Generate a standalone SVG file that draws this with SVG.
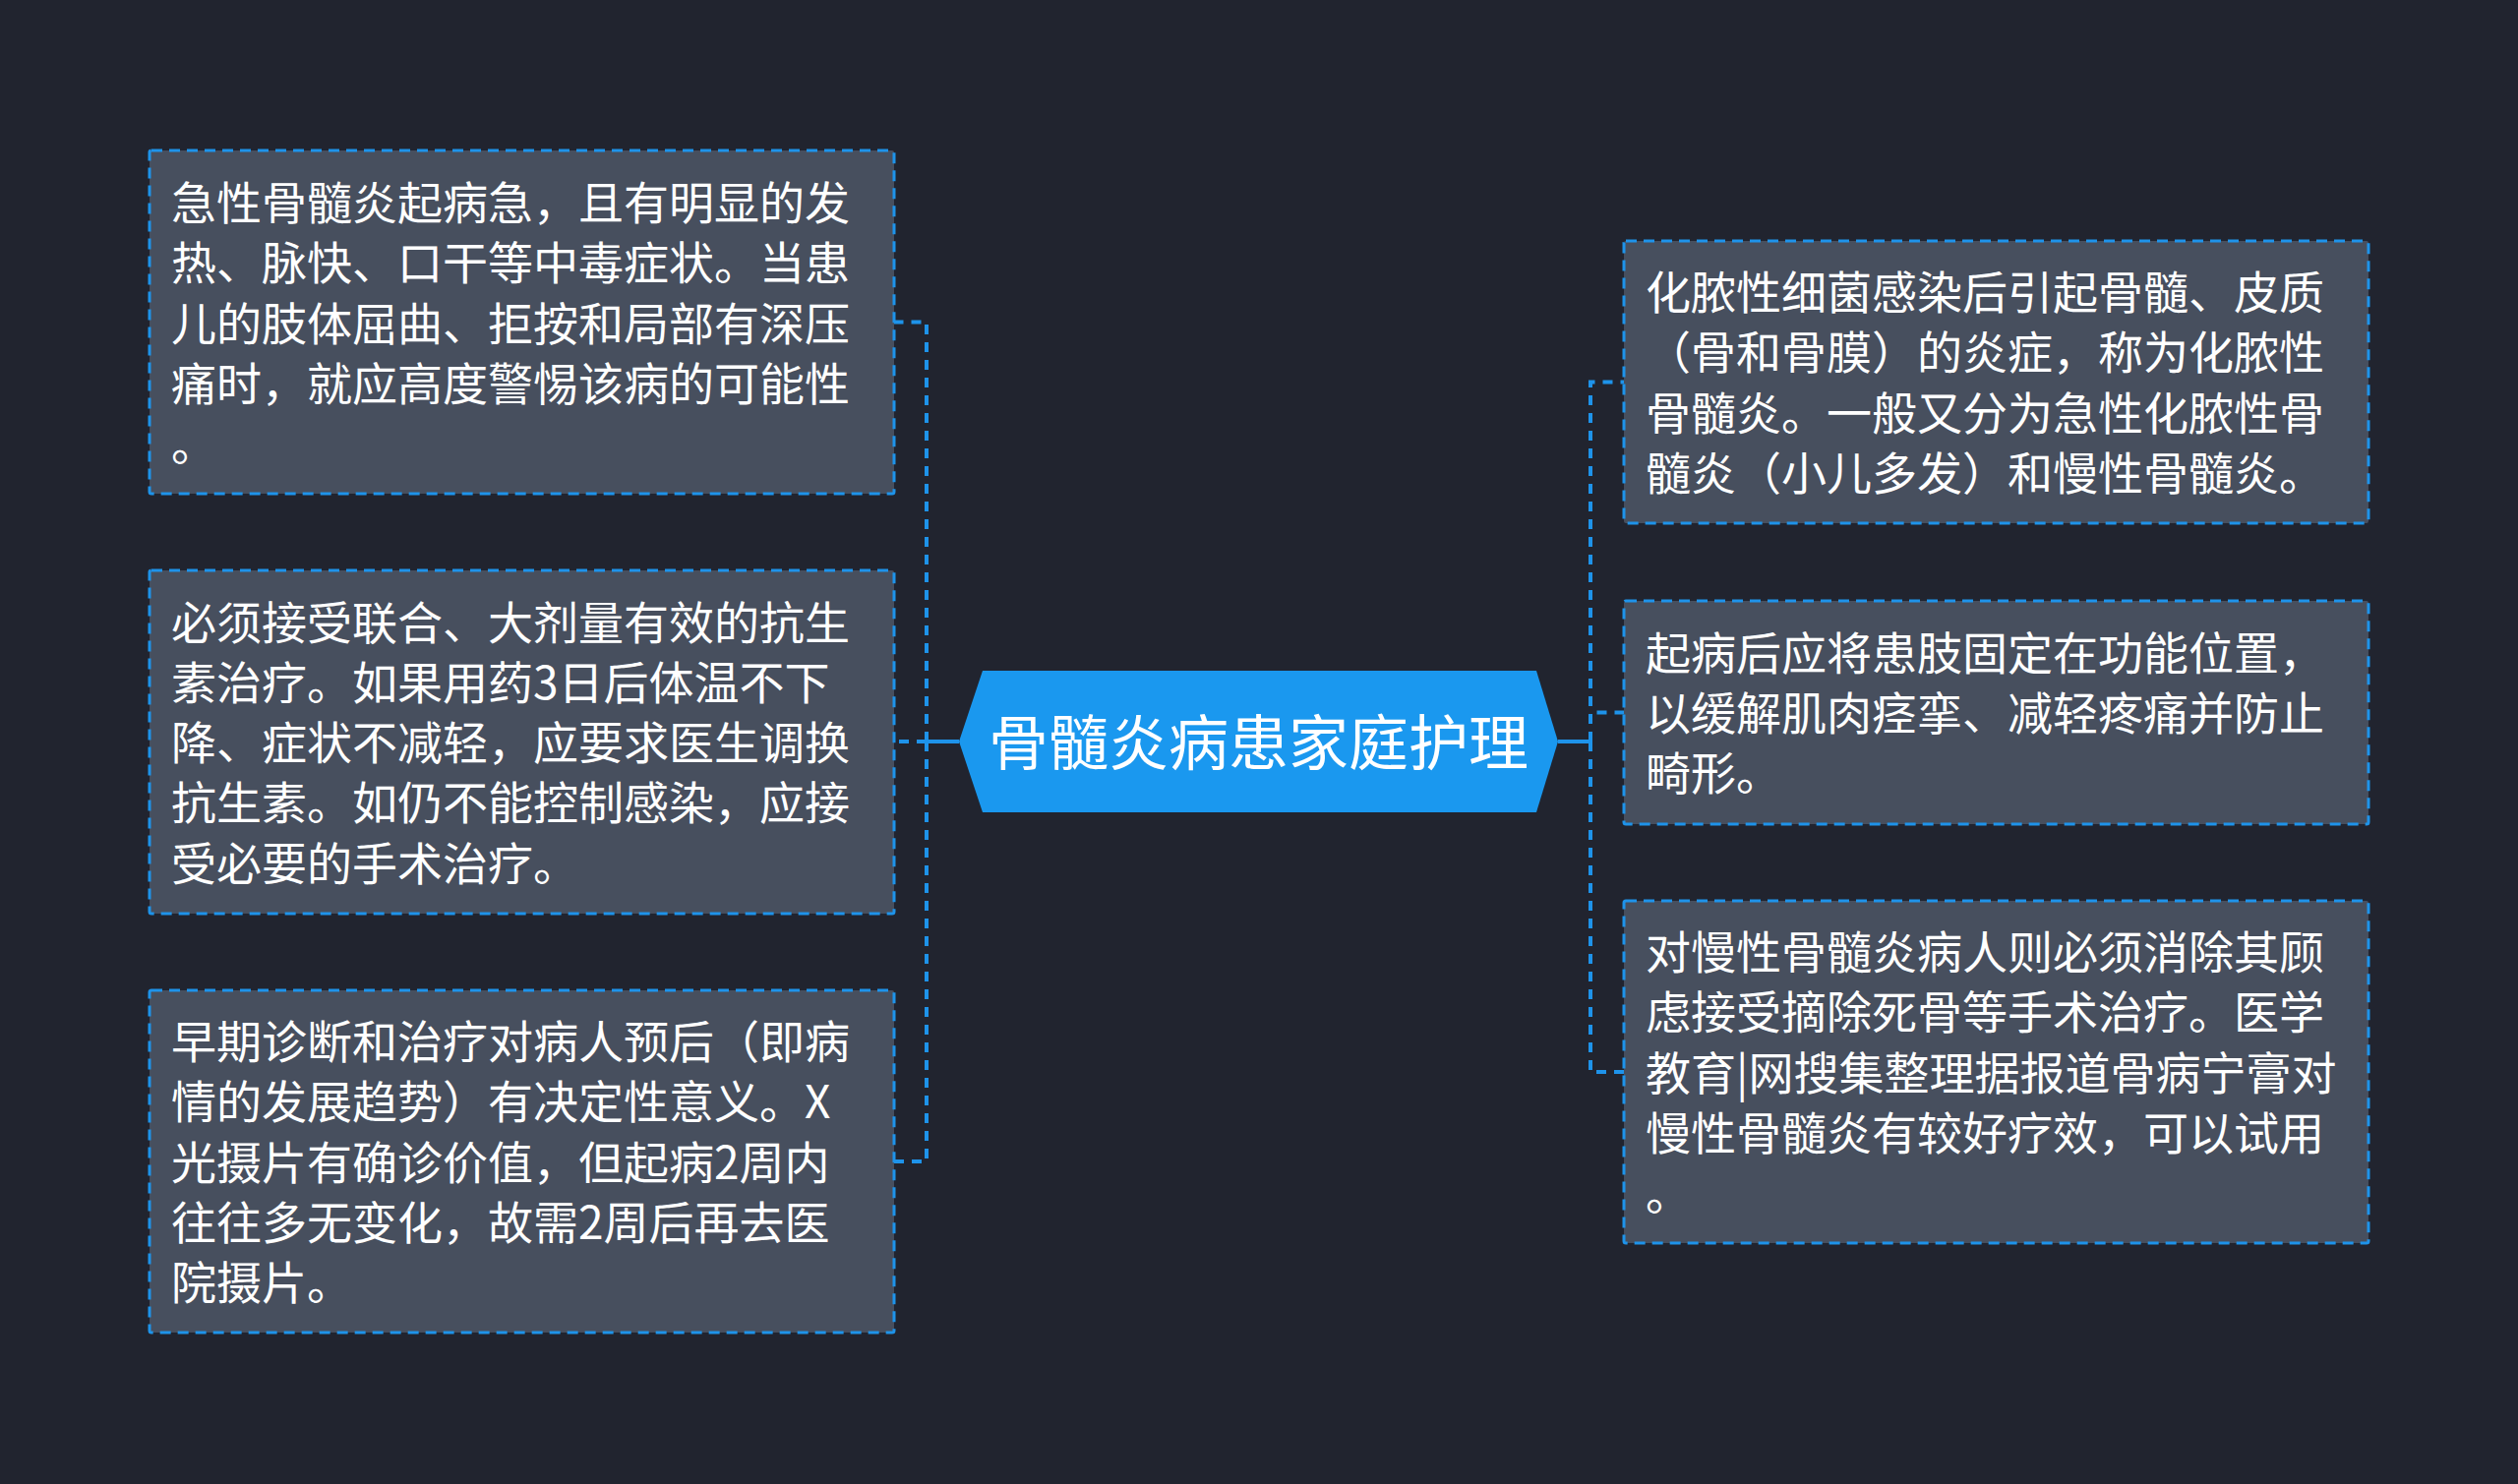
<svg xmlns="http://www.w3.org/2000/svg" width="2560" height="1509" viewBox="0 0 2560 1509">
<style>
.bg{fill:#21242f}
.box{fill:#474f5e;stroke:#1e93ea;stroke-width:3;stroke-dasharray:11 7}
.t{font-family:"Noto Sans CJK SC","Noto Sans",sans-serif;font-size:46px;fill:#ffffff}
.root-t{font-family:"Noto Sans CJK SC","Noto Sans",sans-serif;font-size:61px;fill:#ffffff}
.c{fill:none;stroke:#1e93ea;stroke-width:4;stroke-dasharray:10 8}
.s{fill:none;stroke:#1e93ea;stroke-width:4}
</style>
<rect class="bg" x="0" y="0" width="2560" height="1509"/>
<g id="connectors">
<path class="s" d="M975 754 H942"/>
<path class="s" d="M1584 754 H1617"/>
<path class="c" d="M942 754 V327.5 H909"/>
<path class="c" d="M942 754 H909"/>
<path class="c" d="M942 754 V1181 H909"/>
<path class="c" d="M1617 754 V388.5 H1651"/>
<path class="c" d="M1617 754 V724.5 H1651"/>
<path class="c" d="M1617 754 V1090 H1651"/>
</g>
<g id="root">
<polygon points="975,754 999,682 1562,682 1584,754 1562,826 999,826" fill="#1a98ef"/>
<text class="root-t" x="1279.5" y="777.5" text-anchor="middle">骨髓炎病患家庭护理</text>
</g>
<g id="node-l1">
<rect class="box" x="152" y="153" width="757" height="349" rx="2"/>
<text class="t" x="174" y="223"><tspan x="174">急性骨髓炎起病急，且有明显的发</tspan><tspan x="174" dy="61.3">热、脉快、口干等中毒症状。当患</tspan><tspan x="174" dy="61.3">儿的肢体屈曲、拒按和局部有深压</tspan><tspan x="174" dy="61.3">痛时，就应高度警惕该病的可能性</tspan><tspan x="174" dy="61.3">。</tspan></text>
</g>
<g id="node-l2">
<rect class="box" x="152" y="580" width="757" height="349" rx="2"/>
<text class="t" x="174" y="649.5"><tspan x="174">必须接受联合、大剂量有效的抗生</tspan><tspan x="174" dy="61.3">素治疗。如果用药3日后体温不下</tspan><tspan x="174" dy="61.3">降、症状不减轻，应要求医生调换</tspan><tspan x="174" dy="61.3">抗生素。如仍不能控制感染，应接</tspan><tspan x="174" dy="61.3">受必要的手术治疗。</tspan></text>
</g>
<g id="node-l3">
<rect class="box" x="152" y="1007" width="757" height="348" rx="2"/>
<text class="t" x="174" y="1076"><tspan x="174">早期诊断和治疗对病人预后（即病</tspan><tspan x="174" dy="61.3">情的发展趋势）有决定性意义。X</tspan><tspan x="174" dy="61.3">光摄片有确诊价值，但起病2周内</tspan><tspan x="174" dy="61.3">往往多无变化，故需2周后再去医</tspan><tspan x="174" dy="61.3">院摄片。</tspan></text>
</g>
<g id="node-r1">
<rect class="box" x="1651" y="245" width="757" height="287" rx="2"/>
<text class="t" x="1673" y="314"><tspan x="1673">化脓性细菌感染后引起骨髓、皮质</tspan><tspan x="1673" dy="61.3">（骨和骨膜）的炎症，称为化脓性</tspan><tspan x="1673" dy="61.3">骨髓炎。一般又分为急性化脓性骨</tspan><tspan x="1673" dy="61.3">髓炎（小儿多发）和慢性骨髓炎。</tspan></text>
</g>
<g id="node-r2">
<rect class="box" x="1651" y="611" width="757" height="227" rx="2"/>
<text class="t" x="1673" y="680.7"><tspan x="1673">起病后应将患肢固定在功能位置，</tspan><tspan x="1673" dy="61.3">以缓解肌肉痉挛、减轻疼痛并防止</tspan><tspan x="1673" dy="61.3">畸形。</tspan></text>
</g>
<g id="node-r3">
<rect class="box" x="1651" y="916" width="757" height="348" rx="2"/>
<text class="t" x="1673" y="985"><tspan x="1673">对慢性骨髓炎病人则必须消除其顾</tspan><tspan x="1673" dy="61.3">虑接受摘除死骨等手术治疗。医学</tspan><tspan x="1673" dy="61.3">教育|网搜集整理据报道骨病宁膏对</tspan><tspan x="1673" dy="61.3">慢性骨髓炎有较好疗效，可以试用</tspan><tspan x="1673" dy="61.3">。</tspan></text>
</g>
</svg>
